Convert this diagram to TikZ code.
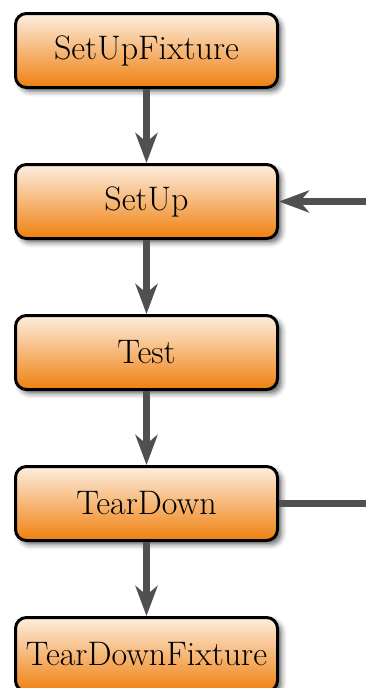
\documentclass[tikz,border=0pt]{standalone}
\usetikzlibrary{arrows.meta,shadows.blur}
\definecolor{boxtop}{RGB}{253,238,224}
\definecolor{boxbottom}{RGB}{239,128,14}
\definecolor{wire}{RGB}{80,80,80}
\tikzset{
  stage/.style={
    rectangle, rounded corners=11pt, draw=black, line width=3pt,
    top color=boxtop, bottom color=boxbottom,
    minimum width=262pt, minimum height=74pt, inner sep=0pt,
    font=\fontsize{34}{40}\selectfont,
    blur shadow={shadow xshift=4pt, shadow yshift=-4pt,
                 shadow blur radius=5pt, shadow opacity=60}
  },
  flow/.style={draw=wire, line width=6.5pt,
    -{Stealth[length=30pt,width=22pt,inset=9pt]}},
  link/.style={draw=wire, line width=6.5pt}
}
\begin{document}
\begin{tikzpicture}[x=1pt,y=-1pt]
  \useasboundingbox (0,0) rectangle (366,688);
  \node[stage] (fix)  at (146.5,50.5)  {SetUpFixture};
  \node[stage] (set)  at (146.5,201.5) {SetUp};
  \node[stage] (test) at (146.5,352.5) {Test};
  \node[stage] (tear) at (146.5,503.5) {TearDown};
  \node[stage] (tfix) at (146.5,654.5) {TearDownFixture};
  \coordinate (loopin)  at (366,201.5);
  \coordinate (loopout) at (366,503.5);
  \draw[flow] (fix)  -- (set);
  \draw[flow] (set)  -- (test);
  \draw[flow] (test) -- (tear);
  \draw[flow] (tear) -- (tfix);
  \draw[flow] (loopin) -- (set.east);
  \draw[link] (tear.east) -- (loopout);
\end{tikzpicture}
\end{document}
